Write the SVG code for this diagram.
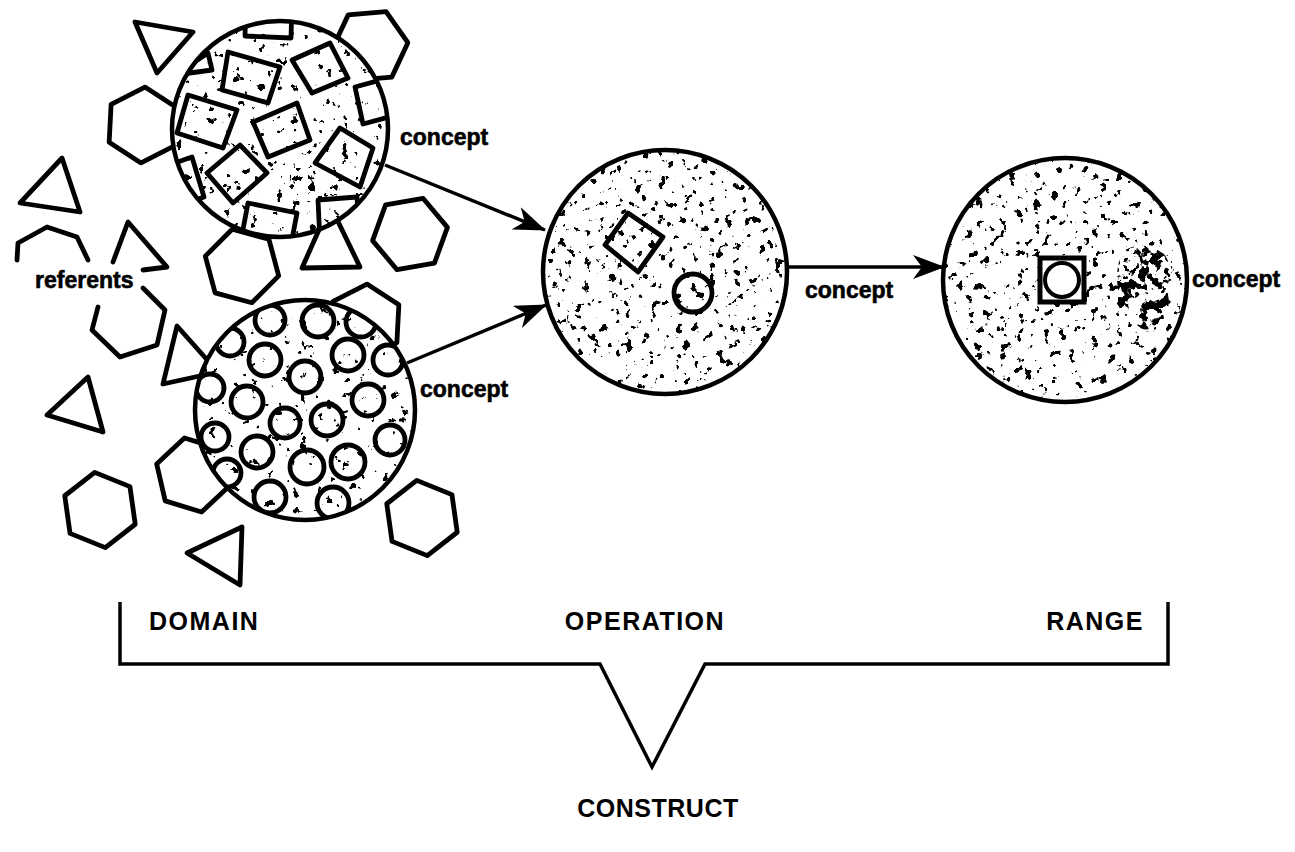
<svg xmlns="http://www.w3.org/2000/svg" width="1295" height="852" viewBox="0 0 1295 852">
<style>
.ol{fill:none;stroke:#000;stroke-width:4.8;stroke-linejoin:round;stroke-linecap:round}
.wf{fill:#fff}
.rim{fill:none;stroke:#000;stroke-width:4.5}
.lbl{font-family:"Liberation Sans",Arial,sans-serif;font-weight:bold;font-size:23px;fill:#000;stroke:#000;stroke-width:0.6}
.cap{font-family:"Liberation Sans",Arial,sans-serif;font-weight:bold;font-size:25px;fill:#000;letter-spacing:1.5px}
.con{fill:none;stroke:#000;stroke-width:3.5}
.brk{fill:none;stroke:#000;stroke-width:3.5;stroke-linejoin:miter}
</style>
<defs>
<polygon id="hx" points="38,0 19,32.9 -19,32.9 -38,0 -19,-32.9 19,-32.9"/>
<filter id="spkL" x="0" y="0" width="1" height="1" color-interpolation-filters="sRGB">
<feTurbulence type="fractalNoise" baseFrequency="0.12" numOctaves="3" seed="4"/>
<feColorMatrix type="matrix" values="0 0 0 0 0 0 0 0 0 0 0 0 0 0 0 25 0 0 0 -17.1"/>
<feComposite in2="SourceGraphic" operator="in"/>
</filter>
<filter id="spkD" x="0" y="0" width="1" height="1" color-interpolation-filters="sRGB">
<feTurbulence type="fractalNoise" baseFrequency="0.12" numOctaves="3" seed="9"/>
<feColorMatrix type="matrix" values="0 0 0 0 0 0 0 0 0 0 0 0 0 0 0 25 0 0 0 -16.1"/>
<feComposite in2="SourceGraphic" operator="in"/>
</filter>
<filter id="spkB" x="0" y="0" width="1" height="1" color-interpolation-filters="sRGB">
<feTurbulence type="fractalNoise" baseFrequency="0.1" numOctaves="3" seed="2"/>
<feColorMatrix type="matrix" values="0 0 0 0 0 0 0 0 0 0 0 0 0 0 0 20 0 0 0 -10.4"/>
<feComposite in2="SourceGraphic" operator="in"/>
</filter>
<clipPath id="cA"><circle cx="280" cy="129" r="108"/></clipPath>
<clipPath id="cB"><circle cx="305" cy="410" r="110"/></clipPath>
<marker id="ah" viewBox="0 0 32 24" refX="31" refY="12" markerWidth="32" markerHeight="24" markerUnits="userSpaceOnUse" orient="auto">
<path d="M0,0 L32,12 L0,24 L9,12 Z" fill="#000"/>
</marker>
</defs>

<g id="referents" class="ol">
<use href="#hx" transform="translate(370,46) rotate(-5)"/>
<use href="#hx" transform="translate(143,125) rotate(33)"/>
<use href="#hx" transform="translate(242,266) rotate(15)"/>
<use href="#hx" transform="translate(410,234) rotate(-10)"/>
<use href="#hx" transform="translate(365,322) rotate(33)"/>
<use href="#hx" transform="translate(193,475) rotate(17)"/>
<use href="#hx" transform="translate(100,510) rotate(22)"/>
<use href="#hx" transform="translate(422,518) rotate(22)"/>
<polyline points="143,288 165,310 157,345 120,357 92,330 98,307"/>
<polyline points="17,260 18,243 47,227 77,237 88,260"/>
<polygon points="135,22 193,32 157,73"/>
<polygon points="20,203 62,158 80,212"/>
<polyline points="143,270 167,267 128,222 113,262"/>
<polygon points="302,268 360,267 330,205"/>
<polygon points="177,326 163,384 218,372"/>
<polygon points="47,415 88,377 103,432"/>
<polygon points="187,553 242,527 240,585"/>
</g>

<g id="concept-squares">
<circle class="wf" cx="280" cy="129" r="108"/>
<circle cx="280" cy="129" r="108" filter="url(#spkL)"/>
<path d="M290,165 q25,-10 45,8 q10,18 -10,28 q-25,5 -35,-10z" filter="url(#spkD)"/>
<g clip-path="url(#cA)" class="ol">
<polygon points="228,52 280,67 268,103 222,90"/>
<polygon points="292,60 330,43 348,78 312,93"/>
<polygon points="188,95 237,110 223,148 177,133"/>
<polygon points="253,122 297,103 310,140 268,157"/>
<polygon points="340,128 373,148 360,187 315,163"/>
<polygon points="207,173 240,145 267,173 233,203"/>
<polygon points="355,87 392,77 400,114 363,124"/>
<polygon points="246,0 292,2 291,38 245,36"/>
<polygon points="155,170 192,157 204,197 167,210"/>
<polygon points="248,203 297,213 290,250 241,240"/>
<polygon points="318,200 357,197 360,240 320,242"/>
<polygon points="175,75 208,53 212,70"/>
</g>
<circle class="rim" cx="280" cy="129" r="108"/>
</g>

<g id="concept-circles">
<circle class="wf" cx="305" cy="410" r="110"/>
<circle cx="305" cy="410" r="110" filter="url(#spkL)"/>
<g clip-path="url(#cB)" class="ol">
<circle cx="270" cy="320" r="15"/>
<circle cx="318" cy="321" r="16"/>
<circle cx="361" cy="322" r="15"/>
<circle cx="230" cy="342" r="14"/>
<circle cx="265" cy="360" r="16"/>
<circle cx="348" cy="355" r="16"/>
<circle cx="388" cy="360" r="15"/>
<circle cx="305" cy="377" r="16"/>
<circle cx="210" cy="388" r="14"/>
<circle cx="247" cy="402" r="16"/>
<circle cx="368" cy="400" r="16"/>
<circle cx="285" cy="423" r="15"/>
<circle cx="327" cy="420" r="16"/>
<circle cx="215" cy="437" r="14"/>
<circle cx="257" cy="452" r="16"/>
<circle cx="390" cy="440" r="15"/>
<circle cx="307" cy="467" r="17"/>
<circle cx="348" cy="462" r="17"/>
<circle cx="227" cy="473" r="14"/>
<circle cx="270" cy="497" r="16"/>
<circle cx="333" cy="503" r="16"/>
</g>
<circle class="rim" cx="305" cy="410" r="110"/>
</g>

<g id="operation">
<circle class="wf" cx="665" cy="272" r="122"/>
<circle cx="665" cy="272" r="122" filter="url(#spkD)"/>
<polygon class="ol" points="605,245 628,213 663,237 638,272"/>
<circle class="ol" cx="693" cy="293" r="19"/>
<circle class="rim" cx="665" cy="272" r="122"/>
</g>

<g id="range">
<circle class="wf" cx="1065" cy="280" r="122"/>
<circle cx="1065" cy="280" r="122" filter="url(#spkD)"/>
<path d="M1122,252 q20,-14 42,2 q12,16 2,34 q8,18 -6,34 q-14,14 -24,2 q-6,-14 -14,-22 q-10,-24 0,-50z" filter="url(#spkB)"/>
<rect x="1040" y="258" width="44" height="44" fill="#fff" stroke="#000" stroke-width="5"/>
<circle cx="1062" cy="280" r="17" fill="#fff" stroke="#000" stroke-width="4"/>
<circle class="rim" cx="1065" cy="280" r="122"/>
</g>

<g id="connectors" class="con">
<line x1="385" y1="165" x2="545" y2="230" marker-end="url(#ah)"/>
<line x1="407" y1="363" x2="546" y2="305" marker-end="url(#ah)"/>
<line x1="789" y1="267" x2="944" y2="267" marker-end="url(#ah)"/>
</g>

<g id="labels">
<text class="lbl" x="400" y="145">concept</text>
<text class="lbl" x="420" y="397">concept</text>
<text class="lbl" x="805" y="298">concept</text>
<text class="lbl" x="1192" y="287">concept</text>
<text class="lbl" x="35" y="288">referents</text>
</g>

<g id="construct">
<path class="brk" d="M120,602 V664 H600 L652,767 L705,664 H1168 V602"/>
<text class="cap" x="149" y="630">DOMAIN</text>
<text class="cap" x="645" y="630" text-anchor="middle">OPERATION</text>
<text class="cap" x="1144" y="630" text-anchor="end">RANGE</text>
<text class="cap" x="658" y="817" text-anchor="middle" style="letter-spacing:0.5px">CONSTRUCT</text>
</g>
</svg>
